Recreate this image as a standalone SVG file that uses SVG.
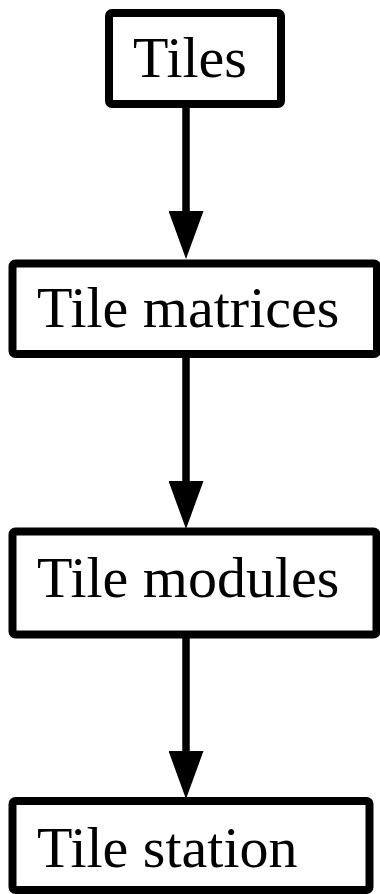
<svg xmlns="http://www.w3.org/2000/svg" width="380" height="894" viewBox="0 0 380 894">
<style>
.box{fill:#fff;stroke:#000;stroke-width:8;stroke-linejoin:round}
.lbl{font-family:"Liberation Serif","Times New Roman",serif;font-size:58px;fill:#000}
.edge{stroke:#000;stroke-width:7.5;fill:none}
</style>
<defs>
<marker id="arrow" markerUnits="userSpaceOnUse" markerWidth="48" markerHeight="35" viewBox="0 0 48 35" refX="0" refY="17.5" orient="auto">
<path d="M0,0 L48,17.5 L0,35 Z" fill="#000"/>
</marker>
</defs>
<rect width="380" height="894" fill="#fff"/>
<g id="connectors">
<line class="edge" x1="186" y1="104" x2="186" y2="211" marker-end="url(#arrow)"/>
<line class="edge" x1="186" y1="354" x2="186" y2="481" marker-end="url(#arrow)"/>
<line class="edge" x1="186" y1="634" x2="186" y2="751" marker-end="url(#arrow)"/>
</g>
<g id="tiles">
<rect class="box" x="109" y="13" width="172" height="91" rx="3"/>
<text class="lbl" x="133" y="77">Tiles</text>
</g>
<g id="tile-matrices">
<rect class="box" x="12.5" y="263.5" width="364.5" height="90.5" rx="3"/>
<text class="lbl" x="37" y="327">Tile matrices</text>
</g>
<g id="tile-modules">
<rect class="box" x="12.5" y="531.5" width="364" height="103" rx="3"/>
<text class="lbl" x="37" y="597">Tile modules</text>
</g>
<g id="tile-station">
<rect class="box" x="12.5" y="801" width="357" height="89" rx="3"/>
<text class="lbl" x="37" y="867">Tile station</text>
</g>
</svg>
